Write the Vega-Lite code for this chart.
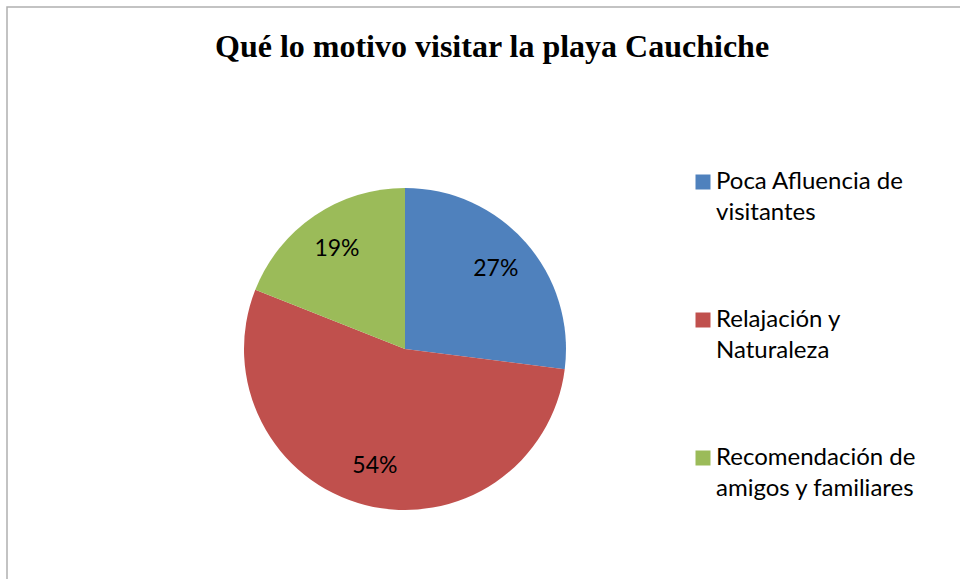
{
  "$schema": "https://vega.github.io/schema/vega-lite/v6.json",
  "width": 957,
  "height": 576,
  "autosize": {"type": "none"},
  "padding": {"left": 7, "top": 7, "right": 0, "bottom": 0},
  "background": "white",
  "view": {"stroke": "#b0b0b0", "strokeWidth": 1.5},
  "config": {
    "view": {"stroke": "#b0b0b0", "strokeWidth": 1.5},
    "font": "Lato"
  },
  "title": {
    "text": "Qué lo motivo visitar la playa Cauchiche",
    "font": "Liberation Serif",
    "fontSize": 32,
    "fontWeight": "bold",
    "color": "black",
    "anchor": "start",
    "frame": "group",
    "baseline": "alphabetic",
    "dx": 208,
    "offset": -82
  },
  "data": {
    "values": [
      {"motivo": "Poca Afluencia de visitantes", "porcentaje": 27},
      {"motivo": "Relajación y Naturaleza", "porcentaje": 54},
      {"motivo": "Recomendación de amigos y familiares", "porcentaje": 19}
    ]
  },
  "transform": [
    {"calculate": "datum.porcentaje + '%'", "as": "etiqueta"},
    {"window": [{"op": "row_number", "as": "orden"}]}
  ],
  "encoding": {
    "theta": {"field": "porcentaje", "type": "quantitative", "stack": true},
    "order": {"field": "orden", "type": "quantitative"},
    "color": {
      "field": "motivo",
      "type": "nominal",
      "sort": ["Poca Afluencia de visitantes", "Relajación y Naturaleza", "Recomendación de amigos y familiares"],
      "scale": {
        "domain": ["Poca Afluencia de visitantes", "Relajación y Naturaleza", "Recomendación de amigos y familiares"],
        "range": ["#4F81BD", "#C0504D", "#9BBB59"]
      },
      "legend": {
        "title": null,
        "orient": "none",
        "legendX": 684,
        "legendY": 163,
        "padding": 0,
        "symbolType": "square",
        "symbolSize": 225,
        "symbolStrokeWidth": 0,
        "labelFont": "Lato",
        "labelFontSize": 24,
        "labelColor": "black",
        "labelOffset": 1,
        "labelLimit": 300,
        "rowPadding": 83,
        "labelExpr": "datum.label == 'Poca Afluencia de visitantes' ? ['Poca Afluencia de', 'visitantes'] : datum.label == 'Relajación y Naturaleza' ? ['Relajación y', 'Naturaleza'] : ['Recomendación de', 'amigos y familiares']",
        "encode": {"labels": {"update": {"lineHeight": {"value": 31}}}}
      }
    }
  },
  "layer": [
    {
      "mark": {"type": "arc", "outerRadius": 161, "x": 398, "y": 342}
    },
    {
      "mark": {"type": "text", "radius": 121, "x": 398, "y": 342, "fontSize": 23, "font": "Lato", "color": "black"},
      "encoding": {
        "text": {"field": "etiqueta", "type": "nominal"},
        "color": {"value": "black"}
      }
    }
  ]
}
